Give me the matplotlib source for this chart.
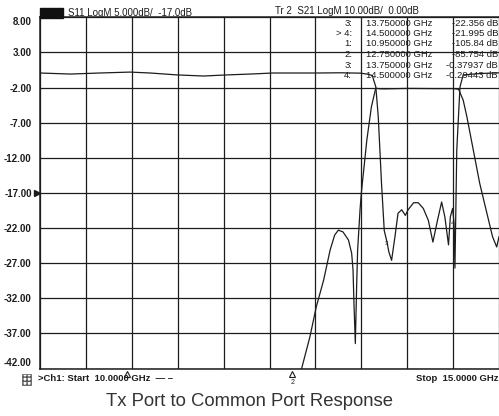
import matplotlib
matplotlib.use("Agg")
import matplotlib.pyplot as plt
import numpy as np
from matplotlib.patches import Rectangle

plt.rcParams['axes.unicode_minus'] = False
plt.rcParams['font.family'] = ['Liberation Sans', 'DejaVu Sans']

# ---------------- data ----------------
# S11 trace (dB, left scale 5 dB/div, ref -17 dB)
s11_freq = [10.00, 10.33, 10.65, 10.98, 11.20, 11.49, 11.78, 12.04, 12.29, 12.54,
            12.83, 13.02, 13.27, 13.49, 13.57, 13.62, 13.658, 13.685, 13.72, 13.75,
            13.78, 13.80, 13.83, 13.867, 13.90, 13.94, 13.98, 14.01, 14.07, 14.12,
            14.175, 14.23, 14.28, 14.33, 14.375, 14.41, 14.45, 14.47, 14.495, 14.51,
            14.52, 14.54, 14.575, 14.61, 14.80, 15.00]
s11_db = [0.07, -0.08, 0.07, 0.2, 0.07, -0.2, -0.36, -0.2, -0.08, 0.07,
          0.07, 0.07, 0.1, 0.05, -0.1, -0.3, -1.9, -6.2, -15.6, -22.36,
          -24.0, -25.4, -26.6, -23.2, -19.9, -19.4, -20.2, -19.4, -18.4, -18.4,
          -19.2, -20.9, -24.0, -20.9, -18.3, -20.4, -24.4, -20.4, -19.2, -21.3,
          -27.7, -10.9, -1.9, -0.2, 0.0, 0.1]

# S21 trace (dB, 10 dB/div, ref 0 dB)
s21_freq = [10.00, 10.95, 12.75, 12.85, 12.94, 13.01, 13.09, 13.16, 13.21, 13.25,
            13.30, 13.36, 13.395, 13.41, 13.42, 13.435, 13.45, 13.46, 13.486, 13.50,
            13.56, 13.61, 13.657, 13.70, 13.75, 14.00, 14.30, 14.50, 14.56, 14.61,
            14.65, 14.72, 14.79, 14.86, 14.93, 14.975, 15.00]
s21_db = [-110.0, -105.84, -85.754, -80.0, -71.0, -62.4, -54.8, -46.3, -42.0, -40.6,
          -41.1, -43.4, -47.2, -52.0, -61.4, -72.9, -55.8, -46.3, -34.9, -30.1,
          -15.0, -5.5, -0.2, -0.35, -0.379, -0.25, -0.3, -0.294, -0.5, -3.6,
          -8.3, -17.8, -27.3, -34.9, -42.5, -45.4, -42.5]

# marker table
mk_labels = ["3:", "> 4:", "1:", "2:", "3:", "4:"]
mk_freqs = ["13.750000 GHz", "14.500000 GHz", "10.950000 GHz", "12.750000 GHz",
            "13.750000 GHz", "14.500000 GHz"]
mk_values = ["-22.356 dB", "-21.995 dB", "-105.84 dB", "-85.754 dB",
             "-0.37937 dB", "-0.29443 dB"]
off_markers_x = [10.95, 12.75]

ytick_vals = [8, 3, -2, -7, -12, -17, -22, -27, -32, -37, -42]

# ---------------- figure ----------------
W, H = 499, 416
fig = plt.figure(figsize=(W / 100, H / 100), dpi=100)

def fx(px):
    return px / W

def fy(py):
    return 1 - py / H

ax = fig.add_axes([fx(40), fy(368.5), fx(499) - fx(40), fy(17.3) - fy(368.5)])
ink = '#1c1c1c'

ax.set_xlim(10, 15)
ax.set_ylim(-42, 8)
ax.set_xticks(np.arange(10, 15.01, 0.5))
ax.set_yticks(ytick_vals)
ax.set_yticklabels(["%.2f" % v for v in ytick_vals])
ax.tick_params(axis='x', length=0, labelbottom=False)
ax.tick_params(axis='y', length=0, pad=6, labelsize=7, colors=ink)
for lab in ax.get_yticklabels():
    lab.set_fontweight('bold')
ylabs = ax.get_yticklabels()
ylabs[0].set_va('top')
ylabs[-1].set_va('bottom')
ax.grid(True, color=ink, lw=0.9)
for s in ax.spines.values():
    s.set_color(ink)
    s.set_linewidth(1.1)
ax.spines['right'].set_visible(False)

ax.plot(s11_freq, s11_db, color=ink, lw=0.9, zorder=3)

ax2 = ax.twinx()
ax2.set_ylim(-80, 20)
ax2.set_yticks([])
for s in ax2.spines.values():
    s.set_visible(False)
ax2.plot(s21_freq, s21_db, color=ink, lw=0.9, zorder=3)

# reference marker at -17
ax.plot([-0.006], [-17], transform=ax.get_yaxis_transform(), marker='>',
        color=ink, ms=4, clip_on=False)

# small marker glyphs on S11 trace
ax.text(13.775, -24.2, "3", fontsize=4.5, color=ink, ha='center', va='center')
ax.text(14.497, -21.3, "4", fontsize=4.5, color=ink, ha='center', va='center')

# off-scale S21 markers below the axis
for i, mx in enumerate(off_markers_x):
    ax.plot([mx], [-42.8], marker='^', mfc='white', mec=ink, ms=4.5, mew=0.8,
            clip_on=False, zorder=5)
ax.text(12.75, -44.0, "2", fontsize=5, color=ink, ha='center', va='center',
        clip_on=False)

# header
fig.patches.append(Rectangle((fx(40), fy(18)), fx(63) - fx(40), fy(8) - fy(18),
                             transform=fig.transFigure, color='#111111'))
fig.text(fx(68), fy(12.5), "S11 LogM 5.000dB/  -17.0dB", fontsize=7, color=ink,
         va='center', ha='left')
fig.text(fx(275), fy(11.5), "Tr 2  S21 LogM 10.00dB/  0.00dB", fontsize=7, color=ink,
         va='center', ha='left')

# marker table
row_y = [23, 33.5, 44, 54.5, 65, 75.5]
for ry, lab, fr, val in zip(row_y, mk_labels, mk_freqs, mk_values):
    fig.text(fx(352), fy(ry), lab, fontsize=6.8, color=ink, ha='right', va='center')
    fig.text(fx(366), fy(ry), fr, fontsize=6.8, color=ink, ha='left', va='center')
    fig.text(fx(498), fy(ry), val, fontsize=6.8, color=ink, ha='right', va='center')

# footer
fig.patches.append(Rectangle((fx(22), fy(385)), fx(31) - fx(22), fy(374) - fy(385),
                             transform=fig.transFigure, facecolor='white',
                             edgecolor='#555555', hatch='++++', lw=0.5))
fig.text(fx(38), fy(378.5), ">Ch1: Start  10.0000 GHz  \u2014 \u2013", fontsize=6.8,
         color=ink, ha='left', va='center', fontweight='bold')
fig.text(fx(499), fy(378.5), "Stop  15.0000 GHz", fontsize=6.8, color=ink,
         ha='right', va='center', fontweight='bold')

fig.text(fx(249), fy(402), "Tx Port to Common Port Response", fontsize=13.3,
         color='#333333', ha='center', va='center')

fig.savefig("out.png", dpi=100)
